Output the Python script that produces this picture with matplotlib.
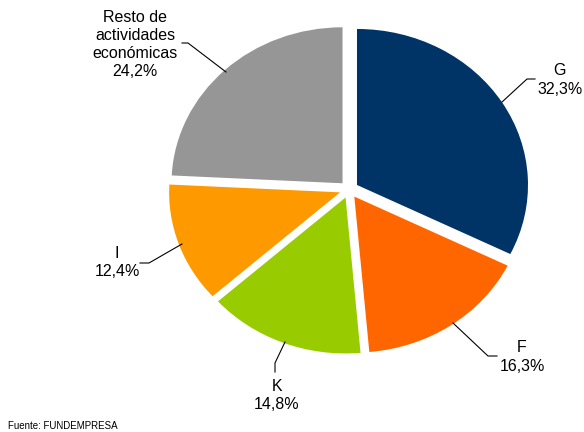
import matplotlib
matplotlib.use("Agg")
import matplotlib.pyplot as plt

categories = ["G", "F", "K", "I", "Resto de\nactividades\neconómicas"]
values = [32.3, 16.3, 14.8, 12.4, 24.2]
value_labels = ["32,3%", "16,3%", "14,8%", "12,4%", "24,2%"]
colors = ["#003366", "#FF6600", "#99CC00", "#FF9900", "#969696"]

plt.rcParams['font.family'] = ['Liberation Sans', 'DejaVu Sans']

W, H = 584, 432
cx, cy = 349, 189.5   # pixel centre (from top)
rx, ry = 171, 156

fig = plt.figure(figsize=(W / 100, H / 100), dpi=100)
ax = fig.add_axes([0, 0, 1, 1])
ax.pie(values, colors=colors, startangle=90, counterclock=False,
       explode=[0.055] * len(values), radius=1,
       wedgeprops=dict(linewidth=0))
ax.set_aspect('auto')
ax.set_xlim(-cx / rx, (W - cx) / rx)
ax.set_ylim(-(H - cy) / ry, cy / ry)
ax.axis('off')


def d(px, py):
    return (px - cx) / rx, (cy - py) / ry


# label centres (pixels) and leader polylines (pixels)
label_pos = [(560, 80), (522, 357), (277, 395.5), (117, 262.5), (135, 44.5)]
leaders = [
    [(502, 102), (527, 79), (535, 79)],
    [(453, 323), (488, 356), (497, 356)],
    [(285, 342), (275, 363), (275, 372)],
    [(182, 244), (149, 263), (140, 263)],
    [(226, 72), (188, 43), (182, 43)],
]

for cat, vl, pos, pts in zip(categories, value_labels, label_pos, leaders):
    x, y = d(*pos)
    ax.text(x, y, f"{cat}\n{vl}", ha='center', va='center', fontsize=11.5,
            color='black', linespacing=1.27)
    xs, ys = zip(*[d(*p) for p in pts])
    ax.plot(xs, ys, color='black', linewidth=0.8)

fig.text(8 / W, 1 - 426 / H, "Fuente: FUNDEMPRESA", fontsize=7,
         ha='left', va='center', color='black')

fig.savefig("out.png", dpi=100)
